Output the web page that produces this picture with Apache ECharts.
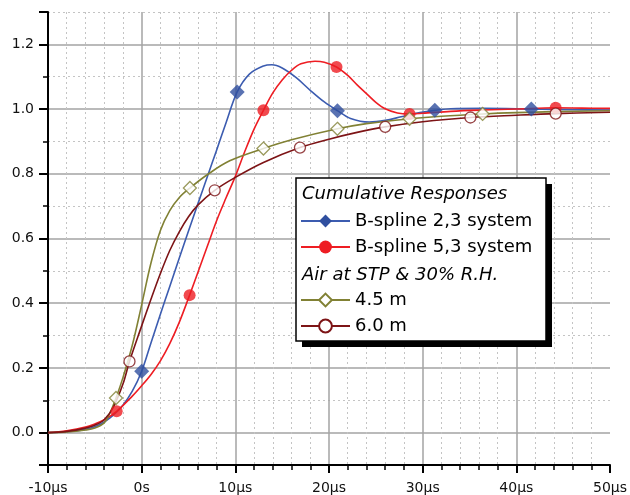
<!DOCTYPE html>
<html>
<head>
<meta charset="utf-8">
<script src="https://cdn.jsdelivr.net/npm/echarts@6/dist/echarts.min.js"></script>
<style>
html,body{margin:0;padding:0;background:#fff;}
#chart{width:630px;height:495px;}
</style>
</head>
<body>
<div id="chart"></div>
<script>
// ---- data ----
const xTickLabels = ['-10μs', '0s', '10μs', '20μs', '30μs', '40μs', '50μs'];
const yTickLabels = ['0.0', '0.2', '0.4', '0.6', '0.8', '1.0', '1.2'];

const seriesNames = ['B-spline 2,3 system', 'B-spline 5,3 system', '4.5 m', '6.0 m'];
const groupTitles = ['Cumulative Responses', 'Air at STP & 30% R.H.'];

// B-spline 2,3 system curve
const timeBlue = [-10, -8, -6, -5, -4, -3, -2, -1, 0, 1, 2, 3, 4, 5, 6, 7, 8, 9, 10.2, 11.5, 13, 13.9, 15, 16.5, 18, 19.5, 20.9, 22.3, 24.3, 26, 27.7, 29.7, 31.3, 33, 36.5, 41.6, 46, 50];
const valBlue  = [0, 0.003, 0.01, 0.018, 0.033, 0.055, 0.085, 0.128, 0.19, 0.278, 0.366, 0.452, 0.538, 0.623, 0.707, 0.79, 0.873, 0.957, 1.053, 1.108, 1.133, 1.137, 1.127, 1.097, 1.058, 1.022, 0.995, 0.971, 0.96, 0.965, 0.976, 0.989, 0.996, 1.001, 1.002, 1.0, 0.998, 0.997];
const markTimeBlue = [0, 10.2, 20.9, 31.3, 41.6];
const markValBlue  = [0.19, 1.053, 0.995, 0.996, 1.0];

// B-spline 5,3 system curve
const timeRed = [-10, -8, -6, -5, -4, -2.67, -1, 0, 1, 2, 3, 4, 5.12, 6, 7, 8, 9, 10, 11, 12, 13, 14, 15, 16, 17, 18.5, 19.5, 20.8, 22, 23, 24, 25, 26, 27.3, 28.6, 30, 33, 36.4, 40, 44.2, 47, 50];
const valRed  = [0, 0.006, 0.017, 0.027, 0.04, 0.066, 0.113, 0.145, 0.18, 0.222, 0.275, 0.34, 0.425, 0.495, 0.575, 0.655, 0.725, 0.792, 0.868, 0.938, 0.996, 1.05, 1.09, 1.12, 1.14, 1.148, 1.145, 1.13, 1.104, 1.075, 1.048, 1.021, 1.001, 0.988, 0.985, 0.987, 0.993, 0.997, 1.0, 1.004, 1.003, 1.002];
const markTimeRed = [-2.67, 5.12, 13.0, 20.8, 28.6, 44.2];
const markValRed  = [0.066, 0.425, 0.996, 1.13, 0.985, 1.004];

// Air 4.5 m curve
const timeOlive = [-10, -8, -6, -5, -4, -3.4, -2.74, -2, -1, 0, 1, 2, 3, 4, 5.15, 7, 9.4, 13, 16, 20.9, 24, 28.6, 32, 36.4, 40, 44.2, 50];
const valOlive  = [0, 0.002, 0.008, 0.014, 0.03, 0.06, 0.107, 0.17, 0.27, 0.395, 0.525, 0.625, 0.686, 0.726, 0.756, 0.797, 0.84, 0.878, 0.905, 0.939, 0.955, 0.97, 0.978, 0.985, 0.989, 0.992, 0.995];
const markTimeOlive = [-2.74, 5.15, 13.0, 20.9, 28.6, 36.4];
const markValOlive  = [0.107, 0.756, 0.878, 0.939, 0.97, 0.985];

// Air 6.0 m curve
const timeBrown = [-10, -8, -6, -5, -4, -3, -2, -1.3, 0, 1, 2, 3, 4, 5, 6, 7.8, 10, 13, 16.9, 20, 23, 26, 30, 35.1, 40, 44.2, 50];
const valBrown  = [0, 0.004, 0.014, 0.023, 0.04, 0.08, 0.15, 0.22, 0.33, 0.413, 0.492, 0.563, 0.62, 0.667, 0.703, 0.749, 0.789, 0.835, 0.881, 0.907, 0.928, 0.945, 0.961, 0.974, 0.981, 0.986, 0.99];
const markTimeBrown = [-1.3, 7.8, 16.9, 26.0, 35.1, 44.2];
const markValBrown  = [0.22, 0.749, 0.881, 0.945, 0.974, 0.986];

// ---- styling ----
const FONT = 'DejaVu Sans';
const colors = ['#3c5cb0', '#ee1d23', '#818134', '#7d1416'];
const markerFill = ['#2f4f9f', '#ee1d23', '#ffffff', '#ffffff'];
const markerBorder = ['#2f4f9f', '#ee1d23', '#818134', '#7d1416'];
const markerBorderWidth = [0, 0, 1.3, 1.3];
const symbols = ['diamond', 'circle', 'diamond', 'circle'];
const symbolSizes = [15, 12, 13, 11];

function zip(t, v) { return t.map((x, i) => [x, v[i]]); }

const curves = [zip(timeBlue, valBlue), zip(timeRed, valRed), zip(timeOlive, valOlive), zip(timeBrown, valBrown)];
const marks = [zip(markTimeBlue, markValBlue), zip(markTimeRed, markValRed), zip(markTimeOlive, markValOlive), zip(markTimeBrown, markValBrown)];

const series = [];
curves.forEach((d, i) => {
  series.push({
    name: seriesNames[i],
    type: 'line',
    data: d,
    smooth: 0.35,
    showSymbol: false,
    symbol: symbols[i],
    lineStyle: { color: colors[i], width: 1.6 },
    itemStyle: { color: markerFill[i], borderColor: markerBorder[i], borderWidth: markerBorderWidth[i] },
    z: 2,
    silent: true,
    animation: false
  });
});
marks.forEach((d, i) => {
  series.push({
    name: seriesNames[i] + ' markers',
    type: 'scatter',
    data: d,
    symbol: symbols[i],
    symbolSize: symbolSizes[i],
    itemStyle: { color: markerFill[i], borderWidth: markerBorderWidth[i], borderColor: markerBorder[i] },
    z: 3,
    silent: true,
    animation: false
  });
});

const xMin = -10, xMax = 50, xStep = 10;

const legendCommon = {
  orient: 'vertical',
  left: 300,
  itemWidth: 49,
  itemHeight: 16,
  itemGap: 6,
  padding: 0,
  selectedMode: false,
  z: 60,
  textStyle: { fontFamily: FONT, fontSize: 18, color: '#000', lineHeight: 20, padding: [0, 0, 0, 0] }
};

const option = {
  animation: false,
  backgroundColor: '#fff',
  grid: { left: 48, right: 19, top: 12, bottom: 29, containLabel: false },
  xAxis: {
    type: 'value',
    min: xMin, max: xMax, interval: xStep,
    axisLine: { show: true, onZero: false, lineStyle: { color: '#000', width: 2 } },
    axisTick: { show: true, inside: false, length: 8, lineStyle: { color: '#000', width: 2 } },
    minorTick: { show: true, splitNumber: 5, length: 5, lineStyle: { color: '#000', width: 1.5 } },
    axisLabel: {
      margin: 16, fontFamily: FONT, fontSize: 14, color: '#111',
      formatter: v => xTickLabels[Math.round((v - xMin) / xStep)] || ''
    },
    splitLine: { show: true, showMinLine: false, showMaxLine: false, lineStyle: { color: '#a3a3a3', width: 1.5 } },
    minorSplitLine: { show: true, lineStyle: { color: '#c4c4c4', width: 1, type: [2, 3] } }
  },
  yAxis: {
    type: 'value',
    min: -0.1, max: 1.3, splitNumber: 7,
    axisLine: { show: true, onZero: false, lineStyle: { color: '#000', width: 2 } },
    axisTick: { show: true, inside: false, length: 9, lineStyle: { color: '#000', width: 2 } },
    minorTick: { show: true, splitNumber: 2, length: 5, lineStyle: { color: '#000', width: 1.5 } },
    axisLabel: {
      margin: 14, fontFamily: FONT, fontSize: 14, color: '#111',
      showMinLabel: false, showMaxLabel: false,
      formatter: v => {
        const idx = Math.round(v / 0.2);
        return Math.abs(idx * 0.2 - v) < 1e-6 ? (yTickLabels[idx] || '') : '';
      }
    },
    splitLine: { show: true, showMinLine: false, showMaxLine: false, lineStyle: { color: '#a3a3a3', width: 1.5 } },
    minorSplitLine: { show: true, lineStyle: { color: '#c4c4c4', width: 1, type: [2, 3] } }
  },
  legend: [
    Object.assign({}, legendCommon, { top: 211, data: [seriesNames[0], seriesNames[1]] }),
    Object.assign({}, legendCommon, { top: 290, data: [seriesNames[2], seriesNames[3]] })
  ],
  graphic: [
    { type: 'rect', z: 50, shape: { x: 302, y: 184, width: 250, height: 163 }, style: { fill: '#000' } },
    { type: 'rect', z: 51, shape: { x: 296, y: 178, width: 250, height: 163 }, style: { fill: '#fff', stroke: '#000', lineWidth: 1.5 } },
    { type: 'text', z: 52, x: 302, y: 194, style: { text: groupTitles[0], fontFamily: FONT, fontSize: 18, fontStyle: 'italic', fill: '#000', verticalAlign: 'middle' } },
    { type: 'text', z: 52, x: 302, y: 275, style: { text: groupTitles[1], fontFamily: FONT, fontSize: 18, fontStyle: 'italic', fill: '#000', verticalAlign: 'middle' } }
  ],
  series: series
};

const chart = echarts.init(document.getElementById('chart'), null, { renderer: 'canvas', width: 630, height: 495 });
chart.setOption(option);
</script>
</body>
</html>
